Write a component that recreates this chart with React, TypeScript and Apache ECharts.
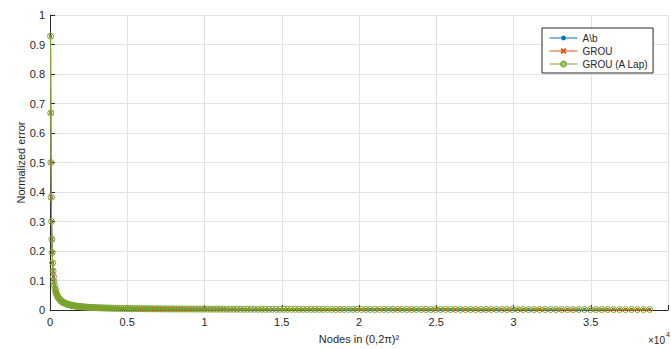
import React, { useEffect, useRef } from "react";
import * as echarts from "echarts";

const nodes: number[] = [
  36, 49, 64, 81, 100, 121, 144, 169, 196, 225,
  256, 289, 324, 361, 400, 441, 484, 529, 576, 625,
  676, 729, 784, 841, 900, 961, 1024, 1089, 1156, 1225,
  1296, 1369, 1444, 1521, 1600, 1681, 1764, 1849, 1936, 2025,
  2116, 2209, 2304, 2401, 2500, 2601, 2704, 2809, 2916, 3025,
  3136, 3249, 3364, 3481, 3600, 3721, 3844, 3969, 4096, 4225,
  4356, 4489, 4624, 4761, 4900, 5041, 5184, 5329, 5476, 5625,
  5776, 5929, 6084, 6241, 6400, 6561, 6724, 6889, 7056, 7225,
  7396, 7569, 7744, 7921, 8100, 8281, 8464, 8649, 8836, 9025,
  9216, 9409, 9604, 9801, 10000, 10201, 10404, 10609, 10816, 11025,
  11236, 11449, 11664, 11881, 12100, 12321, 12544, 12769, 12996, 13225,
  13456, 13689, 13924, 14161, 14400, 14641, 14884, 15129, 15376, 15625,
  15876, 16129, 16384, 16641, 16900, 17161, 17424, 17689, 17956, 18225,
  18496, 18769, 19044, 19321, 19600, 19881, 20164, 20449, 20736, 21025,
  21316, 21609, 21904, 22201, 22500, 22801, 23104, 23409, 23716, 24025,
  24336, 24649, 24964, 25281, 25600, 25921, 26244, 26569, 26896, 27225,
  27556, 27889, 28224, 28561, 28900, 29241, 29584, 29929, 30276, 30625,
  30976, 31329, 31684, 32041, 32400, 32761, 33124, 33489, 33856, 34225,
  34596, 34969, 35344, 35721, 36100, 36481, 36864, 37249, 37636, 38025,
  38416, 38809,
];

const errAb: number[] = [
  0.928, 0.668, 0.5, 0.382, 0.3, 0.24, 0.195, 0.16, 0.132, 0.113,
  0.096, 0.083, 0.073, 0.065, 0.058, 0.052, 0.047, 0.043, 0.039, 0.036,
  0.033, 0.03, 0.028, 0.026, 0.0245, 0.023, 0.0215, 0.02, 0.019, 0.018,
  0.017, 0.016, 0.0152, 0.0145, 0.0138, 0.0132, 0.0126, 0.0121, 0.0116, 0.0111,
  0.0107, 0.0103, 0.0099, 0.0095, 0.0092, 0.0089, 0.0086, 0.0083, 0.008, 0.0078,
  0.0075, 0.0073, 0.0071, 0.0069, 0.0067, 0.0065, 0.0063, 0.0062, 0.006, 0.0058,
  0.0057, 0.0056, 0.0054, 0.0053, 0.0052, 0.0051, 0.0049, 0.0048, 0.0047, 0.0046,
  0.0045, 0.0044, 0.0043, 0.0043, 0.0042, 0.0041, 0.004, 0.0039, 0.0039, 0.0038,
  0.0037, 0.0037, 0.0036, 0.0035, 0.0035, 0.0034, 0.0034, 0.0033, 0.0033, 0.0032,
  0.0032, 0.0031, 0.0031, 0.003, 0.003, 0.003, 0.0029, 0.0029, 0.0029, 0.0028,
  0.0028, 0.0028, 0.0027, 0.0027, 0.0027, 0.0026, 0.0026, 0.0026, 0.0026, 0.0025,
  0.0025, 0.0025, 0.0025, 0.0024, 0.0024, 0.0024, 0.0024, 0.0024, 0.0023, 0.0023,
  0.0023, 0.0023, 0.0023, 0.0022, 0.0022, 0.0022, 0.0022, 0.0022, 0.0022, 0.0021,
  0.0021, 0.0021, 0.0021, 0.0021, 0.0021, 0.0021, 0.002, 0.002, 0.002, 0.002,
  0.002, 0.002, 0.002, 0.002, 0.002, 0.002, 0.002, 0.0019, 0.0019, 0.0019,
  0.0019, 0.0019, 0.0019, 0.0019, 0.0019, 0.0019, 0.0019, 0.0018, 0.0018, 0.0018,
  0.0018, 0.0018, 0.0018, 0.0018, 0.0018, 0.0018, 0.0018, 0.0018, 0.0018, 0.0018,
  0.0017, 0.0017, 0.0017, 0.0017, 0.0017, 0.0017, 0.0017, 0.0017, 0.0017, 0.0017,
  0.0017, 0.0017, 0.0017, 0.0017, 0.0017, 0.0016, 0.0016, 0.0016, 0.0016, 0.0016,
  0.0016, 0.0016,
];

const errGrou: number[] = errAb;
const errGrouLap: number[] = errAb;

const seriesNames: string[] = ["A\\b", "GROU", "GROU (A Lap)"];
const xTickMax = 40000;
const xTickStep = 5000;
const yTickStep = 0.1;

const FONT = '"Liberation Sans", Arial, Helvetica, sans-serif';
const AX = "#262626";

function pairs(ys: number[]): number[][] {
  const n = Math.min(nodes.length, ys.length);
  const out: number[][] = [];
  for (let i = 0; i < n; i++) out.push([nodes[i], ys[i]]);
  return out;
}

export default function App() {
  const ref = useRef<HTMLDivElement>(null);
  useEffect(() => {
    if (!ref.current) return;
    const chart = echarts.init(ref.current, undefined, { renderer: "svg" });
    chart.setOption({
      animation: false,
      backgroundColor: "#ffffff",
      textStyle: { fontFamily: FONT },
      grid: { left: 50, top: 15, bottom: 37, right: -4 },
      legend: {
        orient: "vertical",
        left: 542,
        top: 28,
        padding: [4, 5, 3, 7],
        itemWidth: 28,
        itemHeight: 6,
        itemGap: 1,
        backgroundColor: "#ffffff",
        borderColor: AX,
        borderWidth: 1,
        borderRadius: 0,
        lineStyle: { width: 1 },
        textStyle: { fontSize: 10, color: AX, fontFamily: FONT, lineHeight: 12 },
        data: seriesNames,
      },
      xAxis: {
        type: "value",
        min: 0,
        max: xTickMax,
        interval: xTickStep,
        name: "Nodes in (0,2π)²",
        nameLocation: "middle",
        nameGap: 23,
        nameTextStyle: { fontSize: 11, color: AX, fontFamily: FONT },
        axisLine: { show: true, onZero: false, lineStyle: { color: AX, width: 1 } },
        axisTick: { show: true, inside: true, length: 5, lineStyle: { color: AX } },
        axisLabel: {
          fontSize: 11,
          color: AX,
          margin: 6,
          fontFamily: FONT,
          formatter: (v: number) => (v >= xTickMax ? "" : String(v / 10000)),
        },
        splitLine: { show: true, lineStyle: { color: "#e2e2e2", width: 1 } },
      },
      yAxis: {
        type: "value",
        min: 0,
        max: 1,
        interval: yTickStep,
        name: "Normalized error",
        nameLocation: "middle",
        nameGap: 24,
        nameMoveOverlap: false,
        nameTextStyle: { fontSize: 11, color: AX, fontFamily: FONT },
        axisLine: { show: true, onZero: false, lineStyle: { color: AX, width: 1 } },
        axisTick: { show: true, inside: true, length: 5, lineStyle: { color: AX } },
        axisLabel: {
          fontSize: 11,
          color: AX,
          margin: 5,
          fontFamily: FONT,
          formatter: (v: number) => String(Math.round(v * 10) / 10),
        },
        splitLine: { show: true, lineStyle: { color: "#e2e2e2", width: 1 } },
      },
      graphic: [
        {
          type: "text",
          left: 648,
          top: 335,
          style: { text: "×10", fontSize: 10, fill: AX, fontFamily: FONT },
        },
        {
          type: "text",
          left: 666,
          top: 331,
          style: { text: "4", fontSize: 7, fill: AX, fontFamily: FONT },
        },
      ],
      series: [
        {
          name: seriesNames[0],
          type: "line",
          data: pairs(errAb),
          clip: false,
          symbol: "circle",
          symbolSize: 3,
          showAllSymbol: true,
          lineStyle: { color: "#0072BD", width: 1 },
          itemStyle: { color: "#0072BD", borderWidth: 0 },
          z: 2,
        },
        {
          name: seriesNames[1],
          type: "line",
          data: pairs(errGrou),
          clip: false,
          symbol: "path://M0,0L10,10M10,0L0,10",
          symbolSize: 5,
          showAllSymbol: true,
          lineStyle: { color: "#D95319", width: 1 },
          itemStyle: { color: "none", borderColor: "#D95319", borderWidth: 1 },
          z: 3,
        },
        {
          name: seriesNames[2],
          type: "line",
          data: pairs(errGrouLap),
          clip: false,
          symbol: "circle",
          symbolSize: 6,
          showAllSymbol: true,
          lineStyle: { color: "#77AC30", width: 1 },
          itemStyle: { color: "rgba(0,0,0,0)", borderColor: "#77AC30", borderWidth: 1 },
          z: 4,
        },
      ],
    });
    return () => chart.dispose();
  }, []);
  return (
    <div
      ref={ref}
      style={{ position: "fixed", left: 0, top: 0, width: 671, height: 349, background: "#fff" }}
    />
  );
}
